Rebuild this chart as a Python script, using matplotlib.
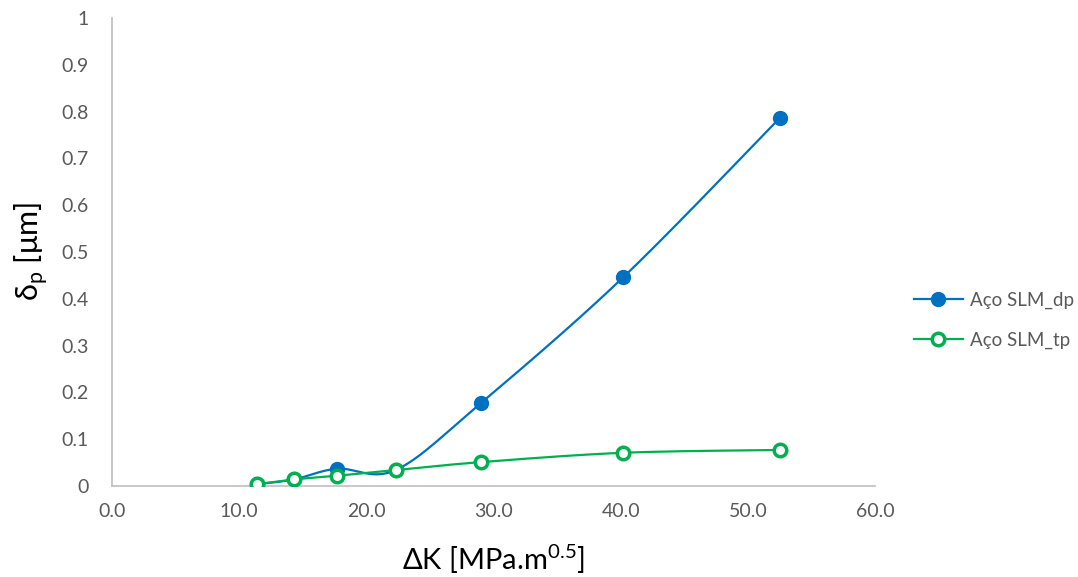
import numpy as np
import matplotlib.pyplot as plt
from matplotlib.lines import Line2D

dk = [11.4, 14.3, 17.7, 22.3, 29.0, 40.2, 52.5]
dp = [0.004, 0.014, 0.037, 0.034, 0.177, 0.446, 0.786]
tp = [0.004, 0.014, 0.022, 0.034, 0.051, 0.071, 0.077]

blue = "#0070C0"
green = "#00B050"
grey = "#595959"


def smooth(x, y, n=40):
    # curva suave tipo Excel (Bezier com tangentes de Catmull-Rom)
    p = np.column_stack([x, y]).astype(float)
    ext = np.vstack([p[0], p, p[-1]])
    out = []
    for i in range(len(p) - 1):
        p0, p1 = ext[i + 1], ext[i + 2]
        c1 = p0 + (ext[i + 2] - ext[i]) / 6
        c2 = p1 - (ext[i + 3] - ext[i + 1]) / 6
        t = np.linspace(0, 1, n)[:, None]
        seg = (1 - t) ** 3 * p0 + 3 * (1 - t) ** 2 * t * c1 + 3 * (1 - t) * t ** 2 * c2 + t ** 3 * p1
        out.append(seg)
    seg = np.vstack(out)
    return seg[:, 0], seg[:, 1]


plt.rcParams["font.family"] = ["Lato", "DejaVu Sans"]
plt.rcParams["mathtext.fontset"] = "custom"
plt.rcParams["mathtext.rm"] = "Lato"

fig = plt.figure(figsize=(10.78, 5.77), dpi=100)
ax = fig.add_axes([0.1039, 0.1577, 0.7078, 0.8111])

sx, sy = smooth(dk, dp)
ax.plot(sx, sy, color=blue, lw=1.6, zorder=2)
ax.plot(dk, dp, "o", color=blue, ms=10, zorder=3)

sx, sy = smooth(dk, tp)
ax.plot(sx, sy, color=green, lw=1.6, zorder=4)
ax.plot(dk, tp, "o", mfc="white", mec=green, mew=2.5, ms=9, zorder=5)

ax.set_xlim(0, 60)
ax.set_ylim(0, 1)
ax.set_xticks(np.arange(0, 61, 10))
ax.set_xticklabels([f"{v:.1f}" for v in np.arange(0, 61, 10)])
ax.set_yticks(np.arange(0, 1.01, 0.1))
ax.set_yticklabels(["0", "0.1", "0.2", "0.3", "0.4", "0.5", "0.6", "0.7", "0.8", "0.9", "1"])
ax.tick_params(length=0, labelsize=14, labelcolor=grey)
ax.tick_params(axis="y", pad=17)
ax.tick_params(axis="x", pad=12)

for s in ["top", "right"]:
    ax.spines[s].set_visible(False)
for s in ["left", "bottom"]:
    ax.spines[s].set_color("#BFBFBF")
    ax.spines[s].set_linewidth(1.2)

ax.set_xlabel("ΔK [MPa.m$^{\\mathrm{0.5}}$]", fontsize=21, labelpad=16)
ax.set_ylabel("δ$_{\\mathrm{p}}$ [μm]", fontsize=22, labelpad=8)

handles = [
    Line2D([], [], color=blue, lw=1.6, marker="o", ms=10),
    Line2D([], [], color=green, lw=1.6, marker="o", mfc="white", mec=green, mew=2.5, ms=9),
]
leg = fig.legend(handles, ["Aço SLM_dp", "Aço SLM_tp"], loc="center left",
                 bbox_to_anchor=(0.832, 0.445), frameon=False, fontsize=13.5,
                 labelcolor=grey, handlelength=2.6, labelspacing=1.2, handletextpad=0.4)

fig.savefig("out.png", dpi=100)
